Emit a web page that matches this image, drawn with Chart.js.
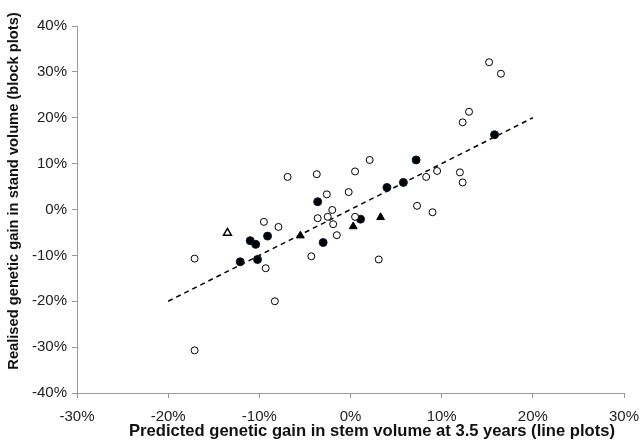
<!DOCTYPE html>
<html>
<head>
<meta charset="utf-8">
<script src="https://cdn.jsdelivr.net/npm/chart.js@4/dist/chart.umd.min.js"></script>
<style>
  html, body { margin: 0; padding: 0; background: #fff; }
  #wrap { width: 643px; height: 444px; position: relative; }
</style>
</head>
<body>
<div id="wrap"><canvas id="gain-chart"></canvas></div>
<script>
// Predicted (x) vs realised (y) genetic gain, in %
const openX = [-17.1, -17.1, -9.5, -7.9, -9.3, -8.3, -6.9, -3.7, -2.6, -2.0, -3.6, -2.5, -1.9, -1.5, -4.3, -0.2, 0.5, 0.5, 2.1, 3.1, 8.3, 9.5, 7.3, 9.0, 12.0, 12.3, 13.0, 12.3, 15.2, 16.5];
const openY = [-10.7, -30.7, -2.7, -3.8, -12.8, -20.0, 7.1, 7.7, 3.3, -0.1, -1.9, -1.6, -3.2, -5.6, -10.2, 3.8, 8.3, -1.6, 10.8, -10.9, 7.1, 8.4, 0.8, -0.6, 8.1, 5.9, 21.3, 19.0, 32.1, 29.6];

const filledX = [-11.0, -10.4, -12.1, -10.2, -9.1, -3.6, -3.0, 1.1, 4.0, 5.8, 7.2, 15.8];
const filledY = [-6.8, -7.6, -11.4, -10.9, -5.8, 1.7, -7.2, -2.1, 4.8, 5.9, 10.8, 16.3];

const triX = [-5.5, 0.3, 3.3];
const triY = [-5.7, -3.7, -1.7];

const openTriX = [-13.5];
const openTriY = [-5.1];

// 1:1 reference line
const lineX = [-20, 20];
const lineY = [-20, 20];

const xTicks = [-30, -20, -10, 0, 10, 20, 30];
const yTicks = [-40, -30, -20, -10, 0, 10, 20, 30, 40];

const xTitle = 'Predicted genetic gain in stem volume at 3.5 years (line plots)';
const yTitle = 'Realised genetic gain in stand volume (block plots)';

function pts(xs, ys) {
    return xs.map((x, i) => ({ x: x, y: ys[i] }));
}

const FONT = '"Liberation Sans", Arial, Helvetica, sans-serif';

// axis titles placed like the original (slightly off-centre)
const axisTitles = {
    id: 'axisTitles',
    afterDraw(chart) {
        const c = chart.ctx;
        c.save();
        c.fillStyle = '#111';
        c.textAlign = 'center';
        c.textBaseline = 'middle';
        c.font = 'bold 16.6px ' + FONT;
        c.fillText(xTitle, 372, 431);
        c.font = 'bold 14.7px ' + FONT;
        c.translate(14, 191);
        c.rotate(-Math.PI / 2);
        c.fillText(yTitle, 0, 0);
        c.restore();
    }
};

const ctx = document.getElementById('gain-chart').getContext('2d');
const chart = new Chart(ctx, {
    type: 'scatter',
    data: {
        datasets: [
            {
                label: 'open',
                data: pts(openX, openY),
                pointStyle: 'circle',
                pointRadius: 3.5,
                backgroundColor: '#fff',
                borderColor: '#000',
                borderWidth: 1,
                order: 1
            },
            {
                label: 'filled',
                data: pts(filledX, filledY),
                pointStyle: 'circle',
                pointRadius: 4,
                backgroundColor: '#000',
                borderColor: '#0b1a33',
                borderWidth: 1,
                order: 1
            },
            {
                label: 'triangles',
                data: pts(triX, triY),
                pointStyle: 'triangle',
                pointRadius: 4.5,
                backgroundColor: '#000',
                borderColor: '#000',
                borderWidth: 1,
                order: 1
            },
            {
                label: 'open triangle',
                data: pts(openTriX, openTriY),
                pointStyle: 'triangle',
                pointRadius: 4.5,
                backgroundColor: '#fff',
                borderColor: '#000',
                borderWidth: 1.5,
                order: 1
            },
            {
                type: 'line',
                label: 'line',
                data: pts(lineX, lineY),
                borderColor: '#000',
                borderWidth: 1.5,
                borderDash: [5, 4],
                pointRadius: 0,
                fill: false,
                order: 5
            }
        ]
    },
    options: {
        responsive: true,
        maintainAspectRatio: false,
        animation: false,
        layout: {
            padding: { left: 0, right: 19, top: 26, bottom: 0 }
        },
        plugins: {
            legend: { display: false },
            tooltip: { enabled: false }
        },
        scales: {
            x: {
                type: 'linear',
                min: -30,
                max: 30,
                afterBuildTicks: (s) => { s.ticks = xTicks.map(v => ({ value: v })); },
                afterFit: (s) => {
                    s.height = 51;
                    s.paddingLeft = 0;
                    s.paddingRight = 0;
                },
                grid: {
                    drawOnChartArea: false,
                    drawTicks: true,
                    tickLength: 5,
                    color: '#999'
                },
                border: { color: '#999', width: 1 },
                ticks: {
                    padding: 10,
                    color: '#222',
                    font: { family: FONT, size: 15 },
                    callback: (v) => v + '%'
                }
            },
            y: {
                type: 'linear',
                min: -40,
                max: 40,
                afterBuildTicks: (s) => { s.ticks = yTicks.map(v => ({ value: v })); },
                afterFit: (s) => {
                    s.width = 77;
                    s.paddingTop = 0;
                    s.paddingBottom = 0;
                },
                grid: {
                    drawOnChartArea: false,
                    drawTicks: true,
                    tickLength: 5,
                    color: '#999'
                },
                border: { color: '#999', width: 1 },
                ticks: {
                    padding: 5,
                    color: '#222',
                    font: { family: FONT, size: 15 },
                    callback: (v) => v + '%'
                }
            }
        }
    },
    plugins: [axisTitles]
});
</script>
</body>
</html>
